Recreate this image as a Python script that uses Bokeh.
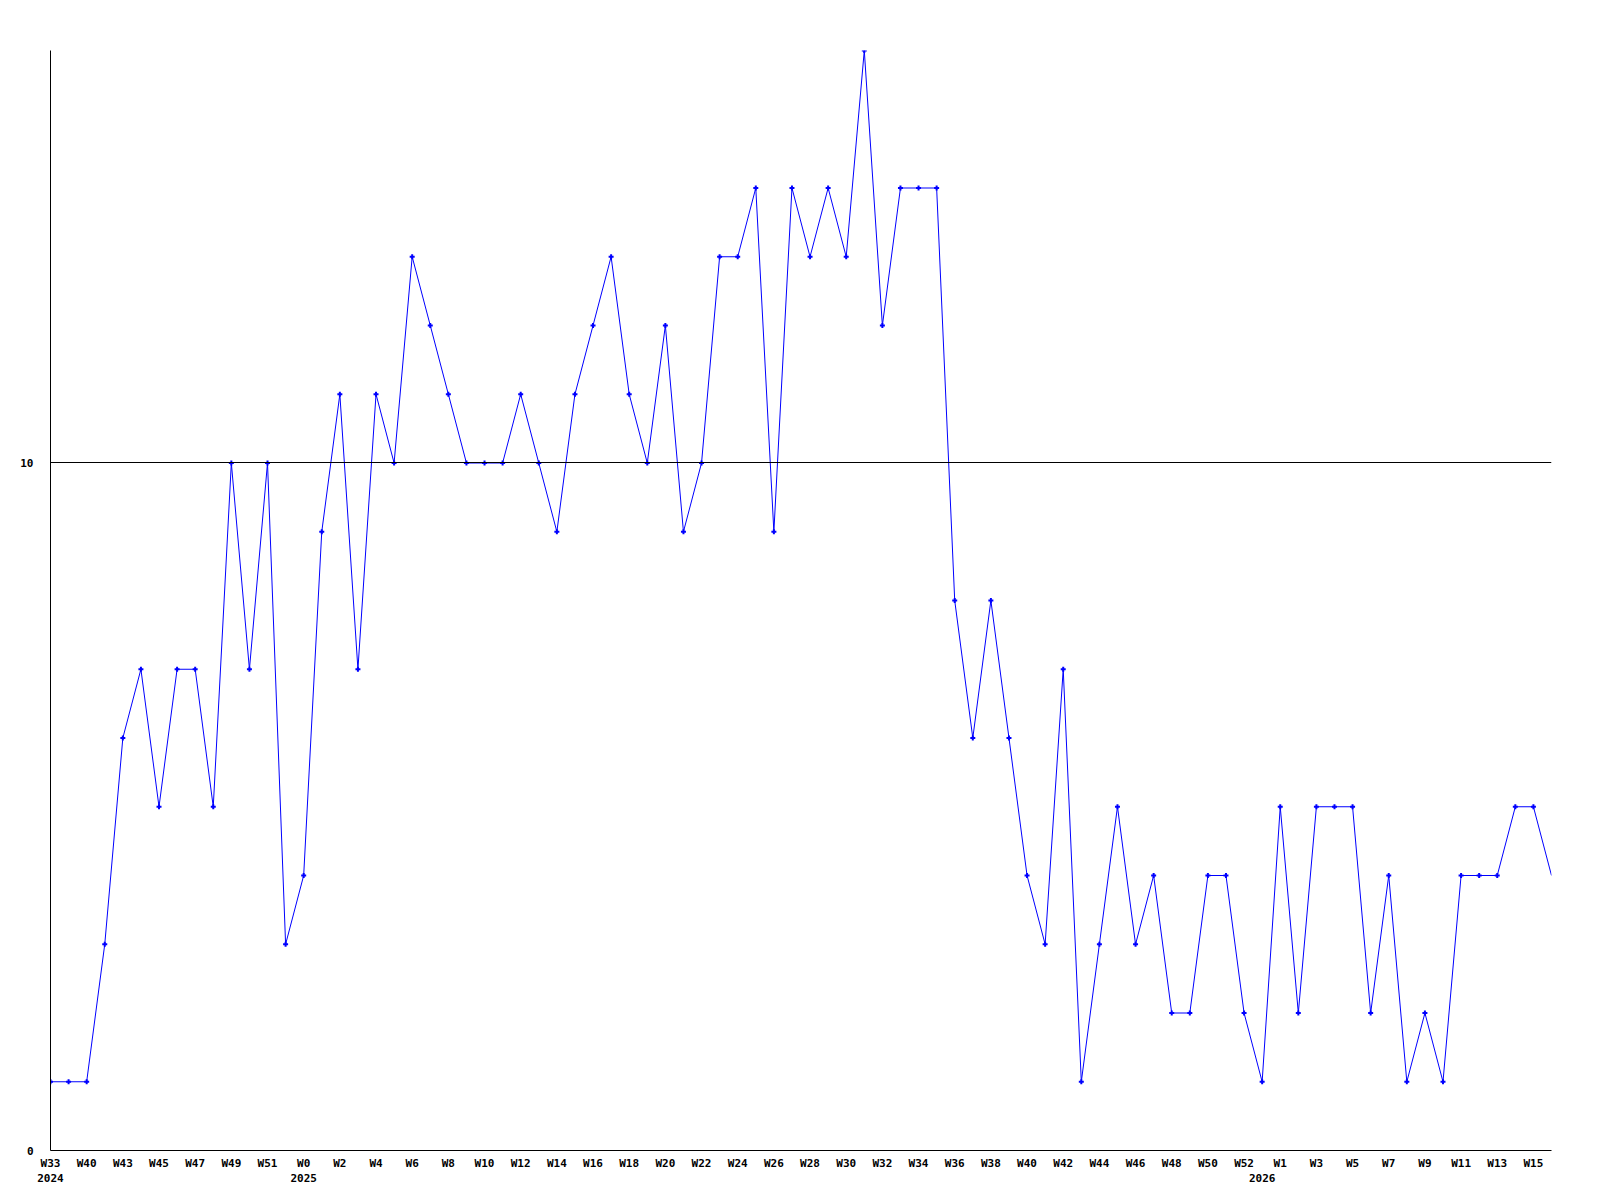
from bokeh.plotting import figure
from bokeh.models import Range1d, FixedTicker, LinearAxis, Span
from bokeh.embed import file_html
from bokeh.resources import INLINE

values = [1, 1, 1, 3, 6, 7, 5, 7, 7, 5,
          10, 7, 10, 3, 4, 9, 11, 7, 11, 10,
          13, 12, 11, 10, 10, 10, 11, 10, 9, 11,
          12, 13, 11, 10, 12, 9, 10, 13, 13, 14,
          9, 14, 13, 14, 13, 16, 12, 14, 14, 14,
          8, 6, 8, 6, 4, 3, 7, 1, 3, 5,
          3, 4, 2, 2, 4, 4, 2, 1, 5, 2,
          5, 5, 5, 2, 4, 1, 2, 1, 4, 4,
          4, 5, 5, 4]
x = list(range(len(values)))

week_ticks = list(range(0, 83, 2))
week_labels = ["W33", "W40", "W43", "W45", "W47", "W49", "W51", "W0", "W2", "W4",
               "W6", "W8", "W10", "W12", "W14", "W16", "W18", "W20", "W22", "W24",
               "W26", "W28", "W30", "W32", "W34", "W36", "W38", "W40", "W42", "W44",
               "W46", "W48", "W50", "W52", "W1", "W3", "W5", "W7", "W9", "W11",
               "W13", "W15"]
year_ticks = [0, 14, 67]
year_labels = ["2024", "2025", "2026"]
y_ticks = [0, 10]
ref_level = 10

FONT = "DejaVu Sans Mono"

p = figure(width=1592, height=1198, output_backend="svg", toolbar_location=None,
           x_range=Range1d(0, len(values) - 1), y_range=Range1d(0, 16),
           x_axis_location=None, y_axis_location=None,
           min_border_left=50, min_border_right=41, min_border_top=50, min_border_bottom=48)
p.outline_line_color = None
p.xgrid.visible = False
p.ygrid.visible = False
p.background_fill_color = "white"
p.border_fill_color = "white"

def style_axis(ax):
    ax.major_tick_line_color = None
    ax.minor_tick_line_color = None
    ax.major_tick_out = 0
    ax.major_tick_in = 0
    ax.minor_tick_out = 0
    ax.minor_tick_in = 0
    ax.major_label_text_font = FONT
    ax.major_label_text_font_style = "bold"
    ax.major_label_text_font_size = "11px"
    ax.major_label_text_color = "black"

xa = LinearAxis(ticker=FixedTicker(ticks=week_ticks))
xa.major_label_overrides = {t: l for t, l in zip(week_ticks, week_labels)}
style_axis(xa)
xa.axis_line_color = "black"
xa.axis_line_width = 1
xa.major_label_standoff = 6
p.add_layout(xa, "below")

ya2 = LinearAxis(ticker=FixedTicker(ticks=year_ticks))
ya2.major_label_overrides = {t: l for t, l in zip(year_ticks, year_labels)}
style_axis(ya2)
ya2.axis_line_color = None
ya2.major_label_standoff = 1
p.add_layout(ya2, "below")

ya = LinearAxis(ticker=FixedTicker(ticks=y_ticks))
style_axis(ya)
ya.axis_line_color = "black"
ya.major_label_standoff = 17
ya.major_label_text_align = "left"
p.add_layout(ya, "left")

# reference line, nudged half a pixel so it renders as one crisp black row
p.add_layout(Span(location=ref_level + 0.5 / 68.75, dimension="width",
                  line_color="black", line_width=1))

p.line(x, values, line_color="#0000FF", line_width=1)
p.scatter(x[:-1], values[:-1], marker="cross", size=5, line_color="#0000FF", line_width=2)

open("out.html", "w").write(file_html(p, INLINE))
